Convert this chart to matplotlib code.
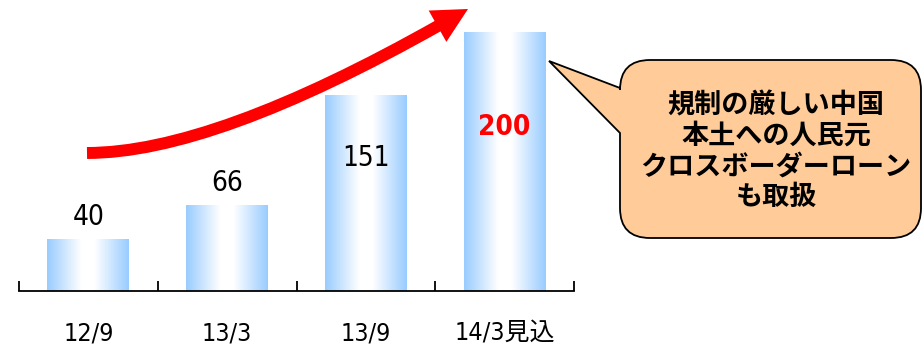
import numpy as np
import matplotlib
matplotlib.use("Agg")
import matplotlib.pyplot as plt
from matplotlib.colors import LinearSegmentedColormap
from matplotlib.patches import FancyArrowPatch, PathPatch, Polygon
from matplotlib.path import Path
from matplotlib.transforms import Affine2D

# data
periods = ["12/9", "13/3", "13/9", "14/3見込"]
balances = [40, 66, 151, 200]
bubble_text = "規制の厳しい中国\n本土への人民元\nクロスボーダーローン\nも取扱"

narrow = ["DejaVu Sans", "Noto Sans CJK JP"]
cjk = ["Noto Sans CJK JP", "DejaVu Sans"]

W, H = 924, 347
fig = plt.figure(figsize=(W / 100, H / 100), dpi=100)
# pixel coordinates, origin top-left
px = Affine2D().scale(1 / W, -1 / H).translate(0, 1) + fig.transFigure

ax = fig.add_axes([19 / W, 56 / H, 555 / W, 291 / H])
ax.patch.set_visible(False)

cmap = LinearSegmentedColormap.from_list(
    "barfill", [(0, "#99CCFF"), (0.42, "#FFFFFF"), (0.58, "#FFFFFF"), (1, "#99CCFF")])
grad = np.linspace(0, 1, 256).reshape(1, -1)
bw = 0.59
bars = ax.bar(range(len(balances)), balances, width=bw, color="none")
for b in bars:
    x0 = b.get_x()
    ax.imshow(grad, extent=[x0, x0 + b.get_width(), 0, b.get_height()],
              cmap=cmap, aspect="auto", zorder=1)

# value labels (y in data units)
label_y = [57, 83.5, 103, 127]
for i, v in enumerate(balances):
    last = i == len(balances) - 1
    ax.text(i, label_y[i], str(v), ha="center", va="center", fontsize=20,
            family=narrow, fontstretch="condensed",
            color="red" if last else "black",
            fontweight="bold" if last else "normal", zorder=3)

ax.set_xlim(-0.5, len(balances) - 0.5)
ax.set_ylim(0, 225)
for s in ["top", "left", "right"]:
    ax.spines[s].set_visible(False)
ax.spines["bottom"].set_linewidth(1.3)
ax.set_yticks([])
ax.set_xticks(range(len(periods)))
ax.set_xticklabels(periods, fontsize=18, family=narrow, fontstretch="condensed")
ax.set_xticks(np.arange(-0.5, len(periods)), minor=True)
ax.tick_params(axis="x", which="major", length=0, pad=22)
ax.tick_params(axis="x", which="minor", direction="in", length=7, width=1.3)

# red growth arrow: curved shaft + triangular head
start, ctrl, tip = np.array([87, 153.]), np.array([213, 153.]), np.array([468, 9.])
u = (tip - ctrl) / np.linalg.norm(tip - ctrl)
n = np.array([-u[1], u[0]])
head_len, head_w = 35, 36
base = tip - head_len * u
shaft = FancyArrowPatch(path=Path([start, ctrl, base + 2 * u],
                                  [Path.MOVETO, Path.CURVE3, Path.CURVE3]),
                        transform=px, arrowstyle="-", lw=8.6, color="red",
                        capstyle="butt")
fig.add_artist(shaft)
head = Polygon([tip, base + n * head_w / 2, base - n * head_w / 2],
               closed=True, transform=px, facecolor="red", edgecolor="none")
fig.add_artist(head)

# speech bubble
x0, x1, y0, y1, r = 620, 921, 60, 238, 30
verts = [(x0 + r, y0), (x1 - r, y0), (x1, y0), (x1, y0 + r), (x1, y1 - r),
         (x1, y1), (x1 - r, y1), (x0 + r, y1), (x0, y1), (x0, y1 - r),
         (x0, 133), (549, 61), (x0, 88), (x0, y0 + r), (x0, y0), (x0 + r, y0),
         (x0 + r, y0)]
codes = [Path.MOVETO, Path.LINETO, Path.CURVE3, Path.CURVE3, Path.LINETO,
         Path.CURVE3, Path.CURVE3, Path.LINETO, Path.CURVE3, Path.CURVE3,
         Path.LINETO, Path.LINETO, Path.LINETO, Path.LINETO, Path.CURVE3,
         Path.CURVE3, Path.CLOSEPOLY]
bubble = PathPatch(Path(verts, codes), transform=px, facecolor="#FFCC99",
                   edgecolor="black", lw=1.3)
fig.add_artist(bubble)
fig.text(776 / W, 1 - 151 / H, bubble_text, ha="center", va="center",
         fontsize=19.5, fontweight="bold", family=cjk, linespacing=1.12)

fig.savefig("out.png", dpi=100)
